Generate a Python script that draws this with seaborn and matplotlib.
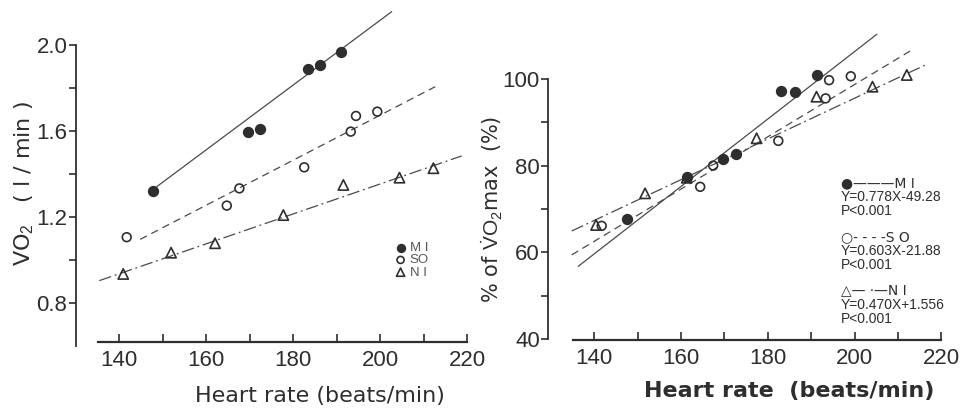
import matplotlib
matplotlib.use("Agg")
import matplotlib.pyplot as plt
import seaborn as sns
import numpy as np

# ---------------- data ----------------
groups = ["MI", "SO", "NI"]

# left panel: VO2 (l/min) vs heart rate
left_mi_hr = [147.7, 169.5, 172.3, 183.4, 186.2, 191.0]
left_mi_vo2 = [1.32, 1.597, 1.61, 1.89, 1.907, 1.969]
left_so_hr = [141.7, 164.7, 167.6, 182.5, 193.2, 194.4, 199.3]
left_so_vo2 = [1.106, 1.253, 1.333, 1.431, 1.597, 1.670, 1.690]
left_ni_hr = [140.9, 151.9, 162.0, 177.7, 191.5, 204.4, 212.2]
left_ni_vo2 = [0.935, 1.034, 1.078, 1.209, 1.349, 1.383, 1.427]

# left panel regression lines (end points)
left_mi_fit_hr = [148.6, 202.6]
left_mi_fit_vo2 = [1.341, 2.155]
left_so_fit_hr = [144.8, 212.6]
left_so_fit_vo2 = [1.096, 1.806]
left_ni_fit_hr = [135.4, 218.7]
left_ni_fit_vo2 = [0.904, 1.484]

# right panel: % of VO2max vs heart rate
right_mi_hr = [147.5, 161.3, 169.7, 172.6, 183.1, 186.2, 191.3]
right_mi_pct = [67.6, 77.4, 81.5, 82.7, 97.3, 97.0, 100.9]
right_so_hr = [141.7, 164.4, 167.4, 182.4, 193.3, 194.1, 199.1]
right_so_pct = [66.1, 75.1, 80.0, 85.7, 95.5, 99.7, 100.6]
right_ni_hr = [140.4, 151.7, 161.3, 177.4, 191.2, 204.1, 212.0]
right_ni_pct = [66.3, 73.6, 77.2, 86.3, 95.9, 98.2, 100.9]

# right panel regression equations and drawn extents
right_slopes = [0.778, 0.603, 0.470]
right_intercepts = [-49.28, -21.88, 1.556]
right_fit_ranges = [[136.3, 205.1], [134.8, 213.1], [134.8, 216.6]]
right_eq_texts = ["Y=0.778X-49.28", "Y=0.603X-21.88", "Y=0.470X+1.556"]
p_text = "P<0.001"

x_ticks = [140, 160, 180, 200, 220]
x_minor = [150, 170, 190, 210]
left_y_ticks = [0.8, 1.2, 1.6, 2.0]
left_y_minor = [1.0, 1.4, 1.8]
right_y_ticks = [40, 60, 80, 100]
right_y_minor = [50, 70, 90]

# ---------------- style ----------------
sns.set_theme(style="white")
plt.rcParams["font.family"] = ["Liberation Sans", "DejaVu Sans"]
plt.rcParams["mathtext.fontset"] = "custom"
plt.rcParams["mathtext.rm"] = "Liberation Sans"
plt.rcParams["mathtext.it"] = "Liberation Sans"

INK = "#2e2e2e"
LINE = "#4a4a4a"

fig = plt.figure(figsize=(9.67, 4.11), dpi=100)
fig.patch.set_facecolor("white")
ax1 = fig.add_axes([0.0784, 0.1582, 0.4139, 0.816])
ax2 = fig.add_axes([0.567, 0.1752, 0.4156, 0.770])

markers = {"MI": "o", "SO": "o", "NI": "^"}
faces = {"MI": INK, "SO": "none", "NI": "none"}
sizes = {"MI": 48, "SO": 40, "NI": 55}
styles = {"MI": "-", "SO": (0, (6, 4)), "NI": (0, (10, 3, 1.5, 3))}


def scatter(ax, x, y, g):
    sns.scatterplot(x=x, y=y, ax=ax, marker=markers[g], s=sizes[g],
                    facecolor=faces[g], edgecolor=INK, linewidth=1.2,
                    label=g, zorder=3)


def fitline(ax, x, y, g):
    sns.lineplot(x=x, y=y, ax=ax, color=LINE, linewidth=0.9,
                 linestyle=styles[g], zorder=2)


# ----- left panel -----
fitline(ax1, left_mi_fit_hr, left_mi_fit_vo2, "MI")
fitline(ax1, left_so_fit_hr, left_so_fit_vo2, "SO")
fitline(ax1, left_ni_fit_hr, left_ni_fit_vo2, "NI")
scatter(ax1, left_mi_hr, left_mi_vo2, "MI")
scatter(ax1, left_so_hr, left_so_vo2, "SO")
scatter(ax1, left_ni_hr, left_ni_vo2, "NI")

ax1.set_xlim(130, 222)
ax1.set_ylim(0.6, 2.16)
ax1.set_xticks(x_ticks)
ax1.set_xticks(x_minor, minor=True)
ax1.set_yticks(left_y_ticks)
ax1.set_yticklabels([f"{v:.1f}" for v in left_y_ticks])
ax1.set_yticks(left_y_minor, minor=True)

leg = ax1.legend(loc="upper left", bbox_to_anchor=(0.785, 0.33), frameon=False,
                 fontsize=9.5, handlelength=0.6, handletextpad=0.4,
                 labelspacing=0.0, borderpad=0, markerscale=0.8)
for t, lab in zip(leg.get_texts(), ["M I", "SO", "N I"]):
    t.set_text(lab)
    t.set_color("#555555")

ax1.set_xlabel("Heart rate (beats/min)", fontsize=16, color=INK,
               family=["DejaVu Sans"])
ax1.xaxis.set_label_coords(0.61, -0.12)
ax1.set_ylabel("VO$_2$   ( l / min )", fontsize=16, color=INK,
               family=["DejaVu Sans"])
ax1.yaxis.set_label_coords(-0.10, 0.483)

# ----- right panel -----
for g, m, b, rng in zip(groups, right_slopes, right_intercepts, right_fit_ranges):
    xs = np.array(rng)
    fitline(ax2, xs, m * xs + b, g)
scatter(ax2, right_mi_hr, right_mi_pct, "MI")
scatter(ax2, right_so_hr, right_so_pct, "SO")
scatter(ax2, right_ni_hr, right_ni_pct, "NI")
if ax2.legend_ is not None:
    ax2.legend_.remove()

ax2.set_xlim(129.4, 222)
ax2.set_ylim(40, 113)
ax2.set_xticks(x_ticks)
ax2.set_xticks(x_minor, minor=True)
ax2.set_yticks(right_y_ticks)
ax2.set_yticks(right_y_minor, minor=True)

ax2.set_xlabel("Heart rate  (beats/min)", fontsize=16, color=INK,
               fontweight="bold", family=["DejaVu Sans"])
ax2.xaxis.set_label_coords(0.60, -0.133)
ax2.set_ylabel(r"% of $\dot{\mathrm{V}}\mathrm{O_2}$max  (%)", fontsize=15,
               color=INK, family=["DejaVu Sans"])
ax2.yaxis.set_label_coords(-0.108, 0.411)

heads = ["\u25cf\u2014\u2014\u2014M I", "\u25cb- - - -S O", "\u25b3\u2014 \u00b7\u2014N I"]
tops = [77.6, 65.2, 52.8]
for h, eq, top in zip(heads, right_eq_texts, tops):
    ax2.text(196.8, top, h, fontsize=10, color=INK, va="top", ha="left",
             family=["DejaVu Sans"])
    ax2.text(196.8, top - 3.3, f"{eq}\n{p_text}", fontsize=10, color=INK,
             va="top", ha="left", linespacing=1.0,
             family=["Liberation Sans", "DejaVu Sans"])

# ----- axes decoration -----
for ax, ybounds, xpos in [(ax1, (0.6, 2.0), 0.62), (ax2, (40, 100), 39.8)]:
    ax.spines["top"].set_visible(False)
    ax.spines["right"].set_visible(False)
    ax.spines["left"].set_bounds(*ybounds)
    ax.spines["bottom"].set_bounds(135, 220)
    ax.spines["bottom"].set_position(("data", xpos))
    ax.spines["left"].set_color(INK)
    ax.spines["bottom"].set_color(INK)
    ax.spines["left"].set_linewidth(1.3)
    ax.spines["bottom"].set_linewidth(1.6)
    ax.tick_params(axis="x", which="both", bottom=True, direction="in",
                   length=6, width=1.2, color=INK, labelsize=16,
                   labelcolor=INK, pad=6)
    ax.tick_params(axis="y", which="both", left=True, direction="out",
                   length=5, width=1.2, color=INK, labelsize=16,
                   labelcolor=INK, pad=1)
    ax.set_facecolor("white")

fig.savefig("out.png", dpi=100, facecolor="white")
